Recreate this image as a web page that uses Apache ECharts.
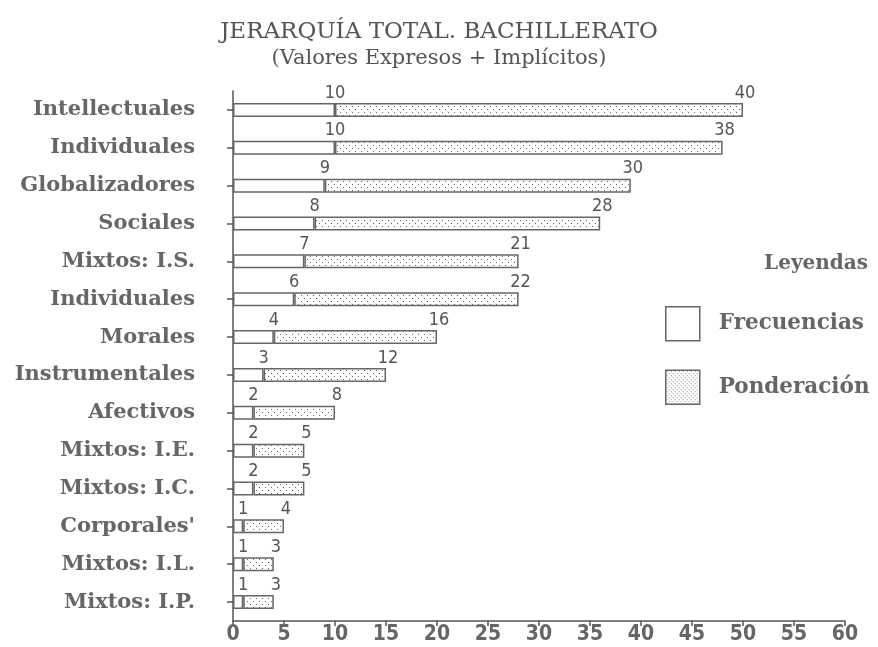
<!DOCTYPE html>
<html>
<head>
<meta charset="utf-8">
<script src="https://cdn.jsdelivr.net/npm/echarts@6/dist/echarts.min.js"></script>
<style>html,body{margin:0;padding:0;background:#fff}#c{width:878px;height:647px}</style>
</head>
<body>
<div id="c"></div>
<script>
const categories = ['Intellectuales','Individuales','Globalizadores','Sociales','Mixtos: I.S.','Individuales','Morales','Instrumentales','Afectivos','Mixtos: I.E.','Mixtos: I.C.',"Corporales'",'Mixtos: I.L.','Mixtos: I.P.'];
const frecuencias = [10,10,9,8,7,6,4,3,2,2,2,1,1,1];
const ponderacion = [40,38,30,28,21,22,16,12,8,5,5,4,3,3];
const xTicks = [0,5,10,15,20,25,30,35,40,45,50,55,60];

function makePattern(step, dot, col){
  const cv = document.createElement('canvas');
  cv.width = step; cv.height = step;
  const ctx = cv.getContext('2d');
  ctx.fillStyle = '#fff'; ctx.fillRect(0,0,step,step);
  ctx.fillStyle = col;
  ctx.fillRect(1,1,dot,dot);
  ctx.fillRect(Math.floor(step/2)+1,Math.floor(step/2)+1,dot,dot);
  return {image: cv, repeat: 'repeat'};
}
const barPat = makePattern(6,1,'#666');
const legPat = makePattern(4,1,'#888');

const GRAY = '#666';
const numLabel = {
  show: true,
  position: ['100%', -1],
  align: 'center',
  verticalAlign: 'bottom',
  fontFamily: 'DejaVu Sans Condensed',
  fontSize: 18,
  color: '#555'
};

const chart = echarts.init(document.getElementById('c'));
chart.setOption({
  backgroundColor: '#fff',
  animation: false,
  title: {
    text: 'JERARQUÍA TOTAL. BACHILLERATO',
    subtext: '(Valores Expresos + Implícitos)',
    left: 'center',
    top: 21,
    itemGap: 4,
    padding: 0,
    textStyle: {fontFamily: 'DejaVu Serif', fontWeight: 'normal', fontSize: 23, color: '#555'},
    subtextStyle: {fontFamily: 'DejaVu Serif', fontSize: 21, color: '#555'}
  },
  graphic: [{
    type: 'text', right: 10, top: 254,
    style: {text: 'Leyendas', font: 'bold 20px "DejaVu Serif"', fill: GRAY}
  }],
  legend: {
    orient: 'vertical',
    left: 665, top: 306, padding: 0,
    itemWidth: 34, itemHeight: 34, itemGap: 28,
    textStyle: {fontFamily: 'DejaVu Serif', fontWeight: 'bold', fontSize: 21.5, color: GRAY, padding: [0,0,0,14]},
    data: [
      {name: 'Frecuencias', icon: 'rect', itemStyle: {color: '#fff', borderColor: '#666', borderWidth: 1.5}},
      {name: 'Ponderación', icon: 'rect', itemStyle: {color: legPat, borderColor: '#666', borderWidth: 1.5}}
    ]
  },
  grid: {left: 233, right: 33, top: 91, bottom: 26, containLabel: false},
  xAxis: {
    type: 'value', min: 0, max: 60, interval: 5,
    axisLine: {show: true, lineStyle: {color: '#555', width: 1.5}},
    axisTick: {show: true, length: 5, lineStyle: {color: '#555', width: 1.5}},
    splitLine: {show: false},
    axisLabel: {
      margin: 3, fontFamily: 'DejaVu Sans Condensed', fontWeight: 'bold', fontSize: 21, color: GRAY,
      formatter: v => xTicks.indexOf(v) >= 0 ? String(v) : ''
    }
  },
  yAxis: {
    type: 'category', inverse: true, data: categories,
    axisLine: {show: true, lineStyle: {color: '#555', width: 1.5}},
    axisTick: {show: true, alignWithLabel: true, length: 6, lineStyle: {color: '#555', width: 1.5}},
    axisLabel: {margin: 38, fontFamily: 'DejaVu Serif', fontWeight: 'bold', fontSize: 21, color: GRAY}
  },
  series: [
    {
      name: 'Frecuencias', type: 'bar', stack: 't', barWidth: 14,
      data: frecuencias,
      itemStyle: {color: '#fff', borderColor: '#666', borderWidth: 1.5},
      label: numLabel
    },
    {
      name: 'Ponderación', type: 'bar', stack: 't', barWidth: 14,
      data: ponderacion,
      itemStyle: {color: barPat, borderColor: '#666', borderWidth: 1.5},
      label: Object.assign({}, numLabel, {offset: [2, 0]})
    }
  ]
});
</script>
</body>
</html>
